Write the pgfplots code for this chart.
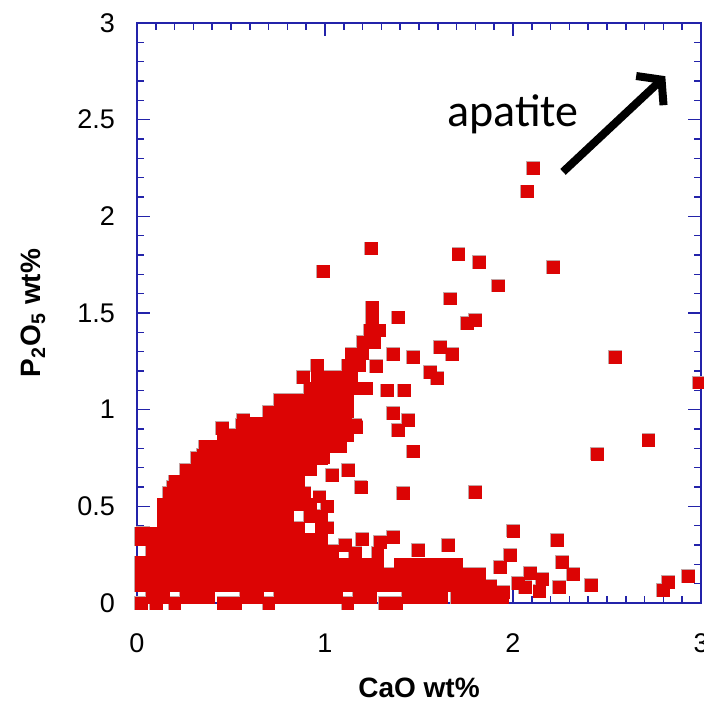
\documentclass[border=0pt]{standalone}
\usepackage{pgfplots}
\pgfplotsset{compat=1.18}
\usepackage{pgfplotstable}
\usepackage{fontspec}
\setmainfont{Liberation Sans}
\newfontfamily\apfont{Carlito}
\usetikzlibrary{arrows.meta}

\definecolor{axisblue}{RGB}{35,35,170}
\definecolor{ptred}{RGB}{220,4,4}
\definecolor{edgegray}{RGB}{195,165,165}

% CaO vs P2O5 (wt%)
\pgfplotstableread[row sep=\\]{
x y\\
0.02 0.00\\ 0.10 0.00\\ 0.20 0.00\\ 0.46 0.00\\ 0.52 0.00\\ 0.70 0.00\\ 1.12 0.00\\ 1.32 0.00\\ 1.38 0.00\\
0.08 0.03\\ 0.14 0.03\\ 0.26 0.03\\ 0.32 0.03\\ 0.38 0.03\\ 0.58 0.03\\ 0.64 0.03\\ 0.76 0.03\\ 0.82 0.03\\ 0.88 0.03\\ 0.94 0.03\\ 1.00 0.03\\
1.06 0.03\\ 1.18 0.03\\ 1.24 0.03\\ 1.44 0.03\\ 1.50 0.03\\ 1.56 0.03\\ 1.62 0.03\\ 1.70 0.03\\ 1.76 0.03\\ 1.82 0.03\\ 1.88 0.03\\ 1.94 0.03\\
0.02 0.09\\ 0.08 0.09\\ 0.14 0.09\\ 0.20 0.09\\ 0.26 0.09\\ 0.32 0.09\\ 0.38 0.09\\ 0.44 0.09\\ 0.50 0.09\\ 0.56 0.09\\ 0.62 0.09\\ 0.68 0.09\\
0.74 0.09\\ 0.80 0.09\\ 0.86 0.09\\ 0.92 0.09\\ 0.98 0.09\\ 1.04 0.09\\ 1.10 0.09\\ 1.16 0.09\\ 1.22 0.09\\ 1.28 0.09\\ 1.34 0.09\\ 1.40 0.09\\
1.46 0.09\\ 1.52 0.09\\ 1.58 0.09\\ 1.64 0.09\\ 1.70 0.09\\ 1.76 0.09\\ 1.82 0.09\\ 1.88 0.09\\
0.02 0.15\\ 0.08 0.15\\ 0.14 0.15\\ 0.20 0.15\\ 0.26 0.15\\ 0.32 0.15\\ 0.38 0.15\\ 0.44 0.15\\ 0.50 0.15\\ 0.56 0.15\\ 0.62 0.15\\ 0.68 0.15\\
0.74 0.15\\ 0.80 0.15\\ 0.86 0.15\\ 0.92 0.15\\ 0.98 0.15\\ 1.04 0.15\\ 1.10 0.15\\ 1.16 0.15\\ 1.22 0.15\\ 1.28 0.15\\ 1.34 0.15\\ 1.40 0.15\\
1.46 0.15\\ 1.52 0.15\\ 1.58 0.15\\ 1.64 0.15\\ 1.70 0.15\\ 1.76 0.15\\ 1.82 0.15\\
0.02 0.21\\ 0.08 0.21\\ 0.14 0.21\\ 0.20 0.21\\ 0.26 0.21\\ 0.32 0.21\\ 0.38 0.21\\ 0.44 0.21\\ 0.50 0.21\\ 0.56 0.21\\ 0.62 0.21\\ 0.68 0.21\\
0.74 0.21\\ 0.80 0.21\\ 0.86 0.21\\ 0.92 0.21\\ 0.98 0.21\\ 1.04 0.21\\ 1.10 0.20\\ 1.16 0.20\\ 1.22 0.20\\ 1.28 0.20\\ 1.40 0.20\\
1.46 0.20\\ 1.52 0.20\\ 1.58 0.20\\ 1.64 0.20\\ 1.70 0.20\\
0.08 0.27\\ 0.14 0.27\\ 0.20 0.27\\ 0.26 0.27\\ 0.32 0.27\\ 0.38 0.27\\ 0.44 0.27\\ 0.50 0.27\\ 0.56 0.27\\ 0.62 0.27\\ 0.68 0.27\\
0.74 0.27\\ 0.80 0.27\\ 0.86 0.27\\ 0.92 0.27\\ 0.98 0.27\\ 1.04 0.27\\
0.02 0.33\\ 0.08 0.33\\ 0.14 0.33\\ 0.20 0.33\\ 0.26 0.33\\ 0.32 0.33\\ 0.38 0.33\\ 0.44 0.33\\ 0.50 0.33\\ 0.56 0.33\\ 0.62 0.33\\ 0.68 0.33\\
0.74 0.33\\ 0.80 0.33\\ 0.86 0.33\\ 0.92 0.33\\ 0.98 0.33\\
0.02 0.36\\ 0.07 0.36\\
0.14 0.39\\ 0.20 0.39\\ 0.26 0.39\\ 0.32 0.39\\ 0.38 0.39\\ 0.44 0.39\\ 0.50 0.39\\ 0.56 0.39\\ 0.62 0.39\\ 0.68 0.39\\ 0.74 0.39\\ 0.80 0.39\\ 0.86 0.39\\ 0.98 0.39\\
0.14 0.45\\ 0.20 0.45\\ 0.26 0.45\\ 0.32 0.45\\ 0.38 0.45\\ 0.44 0.45\\ 0.50 0.45\\ 0.56 0.45\\ 0.62 0.45\\ 0.68 0.45\\ 0.74 0.45\\ 0.80 0.45\\ 0.92 0.45\\ 0.98 0.45\\
0.14 0.51\\ 0.20 0.51\\ 0.26 0.51\\ 0.32 0.51\\ 0.38 0.51\\ 0.44 0.51\\ 0.50 0.51\\ 0.56 0.51\\ 0.62 0.51\\ 0.68 0.51\\ 0.74 0.51\\ 0.80 0.51\\ 0.86 0.51\\ 0.92 0.51\\
0.17 0.57\\ 0.23 0.57\\ 0.29 0.57\\ 0.35 0.57\\ 0.41 0.57\\ 0.47 0.57\\ 0.53 0.57\\ 0.59 0.57\\ 0.65 0.57\\ 0.71 0.57\\ 0.77 0.57\\ 0.83 0.57\\ 0.89 0.57\\
0.20 0.63\\ 0.26 0.63\\ 0.32 0.63\\ 0.38 0.63\\ 0.44 0.63\\ 0.50 0.63\\ 0.56 0.63\\ 0.62 0.63\\ 0.68 0.63\\ 0.74 0.63\\ 0.80 0.63\\ 0.86 0.63\\
0.26 0.69\\ 0.32 0.69\\ 0.38 0.69\\ 0.44 0.69\\ 0.50 0.69\\ 0.56 0.69\\ 0.62 0.69\\ 0.68 0.69\\ 0.74 0.69\\ 0.80 0.69\\ 0.86 0.69\\ 0.92 0.69\\
0.32 0.75\\ 0.38 0.75\\ 0.44 0.75\\ 0.50 0.75\\ 0.56 0.75\\ 0.62 0.75\\ 0.68 0.75\\ 0.74 0.75\\ 0.80 0.75\\ 0.86 0.75\\ 0.92 0.75\\ 0.98 0.75\\
0.36 0.81\\ 0.42 0.81\\ 0.48 0.81\\ 0.54 0.81\\ 0.60 0.81\\ 0.66 0.81\\ 0.72 0.81\\ 0.78 0.81\\ 0.84 0.81\\ 0.90 0.81\\ 0.96 0.81\\ 1.02 0.81\\ 1.08 0.81\\
0.46 0.87\\ 0.52 0.87\\ 0.58 0.87\\ 0.64 0.87\\ 0.70 0.87\\ 0.76 0.87\\ 0.82 0.87\\ 0.88 0.87\\ 0.94 0.87\\ 1.00 0.87\\ 1.06 0.87\\ 1.12 0.87\\
0.57 0.93\\ 0.63 0.93\\ 0.69 0.93\\ 0.75 0.93\\ 0.81 0.93\\ 0.87 0.93\\ 0.93 0.93\\ 0.99 0.93\\ 1.05 0.93\\ 1.11 0.93\\
0.70 0.99\\ 0.76 0.99\\ 0.82 0.99\\ 0.88 0.99\\ 0.94 0.99\\ 1.00 0.99\\ 1.06 0.99\\ 1.12 0.99\\
0.76 1.05\\ 0.82 1.05\\ 0.88 1.05\\ 0.94 1.05\\ 1.00 1.05\\ 1.06 1.05\\ 1.12 1.05\\
0.92 1.11\\ 0.98 1.11\\ 1.04 1.11\\ 1.10 1.11\\ 1.16 1.11\\ 1.22 1.11\\
0.96 1.17\\ 1.02 1.17\\ 1.08 1.17\\ 1.14 1.17\\
1.12 1.23\\ 1.18 1.23\\ 1.14 1.29\\ 1.20 1.29\\ 1.20 1.35\\ 1.26 1.35\\ 1.24 1.41\\ 1.29 1.41\\ 1.25 1.47\\ 1.25 1.53\\
0.19 0.60\\ 0.27 0.626\\ 0.351 0.766\\ 0.452 0.905\\ 0.558 0.921\\ 0.564 0.947\\ 0.76 1.04\\ 0.867 1.05\\ 0.883 1.169\\ 0.957 1.23\\
0.032 0.362\\ 0.97 0.55\\ 1.01 0.50\\ 1.01 0.39\\ 0.99 0.755\\ 1.165 0.91\\ 1.28 0.26\\
2.106 2.25\\ 2.074 2.13\\ 1.245 1.835\\ 0.99 1.715\\ 2.213 1.738\\ 1.71 1.805\\ 1.82 1.764\\ 1.92 1.642\\ 1.665 1.575\\
1.388 1.478\\ 1.755 1.449\\ 1.798 1.464\\ 1.362 1.288\\ 1.468 1.273\\ 1.612 1.324\\ 1.676 1.288\\ 2.543 1.273\\
1.559 1.195\\ 1.596 1.164\\ 1.271 1.226\\ 1.33 1.10\\ 1.42 1.10\\ 1.362 0.983\\ 1.441 0.947\\ 1.388 0.895\\ 1.468 0.785\\
1.16 0.92\\ 1.122 0.688\\ 1.037 0.662\\ 1.19 0.60\\ 1.415 0.569\\ 1.798 0.574\\ 2.447 0.772\\ 2.72 0.843\\ 2.99 1.14\\
1.197 0.331\\ 1.106 0.30\\ 1.16 0.259\\ 1.293 0.316\\ 1.362 0.341\\ 1.495 0.274\\ 1.654 0.30\\ 2.0 0.374\\ 1.984 0.248\\
1.93 0.186\\ 2.234 0.326\\ 2.26 0.212\\ 2.319 0.15\\ 2.09 0.155\\ 2.154 0.124\\ 2.027 0.103\\ 2.064 0.083\\ 2.14 0.062\\
2.245 0.083\\ 2.415 0.093\\ 1.947 0.057\\ 2.824 0.109\\ 2.798 0.067\\ 2.93 0.14\\
}\cloud

\begin{document}
\begin{tikzpicture}
\begin{axis}[
    scale only axis,
    width=282pt, height=290pt,
    xmin=0, xmax=3, ymin=0, ymax=3,
    xtick={0,1,2,3},
    ytick={0,0.5,...,3},
    minor x tick num=9,
    minor y tick num=4,
    tick align=inside,
    major tick length=6.5pt,
    minor tick length=3.5pt,
    axis line style={draw=axisblue, line width=1pt},
    every tick/.style={draw=axisblue, line width=0.8pt},
    tick label style={font=\fontsize{13.5}{16}\selectfont},
    /pgf/number format/assume math mode=true,
    xticklabel style={yshift=-12pt},
    yticklabel style={xshift=-7.5pt},
    xlabel={CaO wt\%},
    ylabel={P\textsubscript{2}O\textsubscript{5} wt\%},
    label style={font=\bfseries\fontsize{14}{17}\selectfont},
    xlabel style={at={(axis description cs:0.5,-0.147)}, anchor=center},
    ylabel style={at={(axis description cs:-0.184,0.5)}, anchor=center},
]
% outlined squares first, then the same squares filled only, so that
% outlines remain only round the edge of the dense cloud
\addplot[only marks, mark=square*, mark size=3.1pt,
    mark options={fill=ptred, draw=edgegray, line width=0.5pt}] table {\cloud};
\addplot[only marks, mark=square*, mark size=2.95pt,
    mark options={fill=ptred, draw=ptred, line width=0.1pt}] table {\cloud};

\draw[line width=4pt, -{Straight Barb[length=8pt,width=20pt]}]
    (axis cs:2.266,2.23) -- (axis cs:2.81,2.725);
\node[font=\apfont\fontsize{23}{27}\selectfont, anchor=base]
    at (axis cs:2.0,2.463) {apatite};
\end{axis}
\pgfresetboundingbox
\path[use as bounding box]
    ([shift={(-68.5pt,-49.5pt)}]current axis.south west) rectangle
    ([shift={(1.5pt,11.5pt)}]current axis.north east);
\end{tikzpicture}
\end{document}
